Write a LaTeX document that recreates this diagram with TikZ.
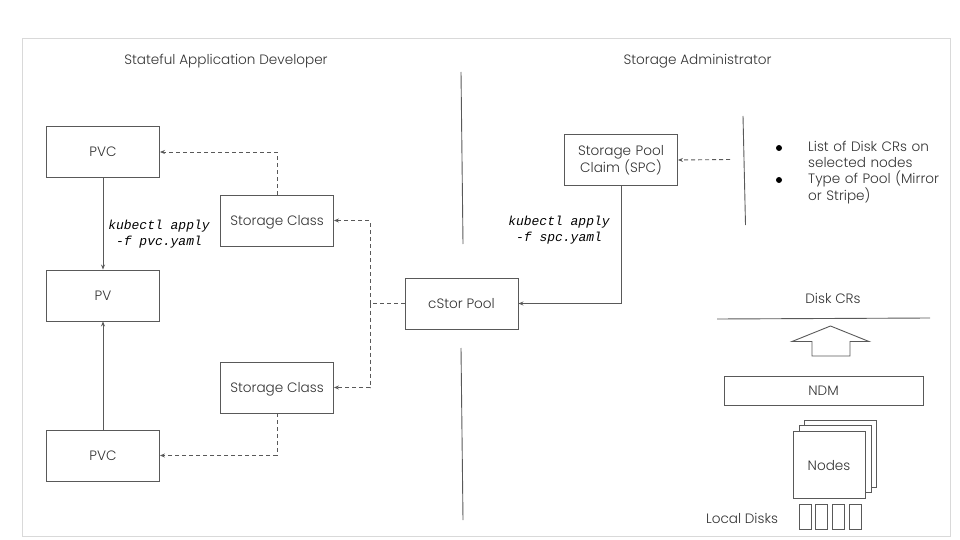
\documentclass[tikz,border=0pt]{standalone}
\usepackage{fontspec}
\setmainfont{Poppins Light}[BoldFont=Poppins]
\newfontfamily\codefont{Liberation Mono}
\usetikzlibrary{arrows.meta}
\definecolor{linegray}{HTML}{595959}
\definecolor{framegray}{HTML}{D9D9D9}
\definecolor{textgray}{HTML}{333333}
\tikzset{
    box/.style={draw=linegray,line width=0.9pt,minimum width=113pt,minimum height=51pt,inner sep=0pt,align=center,text=textgray,font=\fontsize{13.6}{16}\selectfont},
    head/.style={text=textgray,font=\fontsize{13.6}{16}\selectfont,align=left,inner sep=0pt},
    code/.style={font=\fontsize{13}{16.5}\selectfont\codefont\itshape,align=center,inner sep=0pt},
    plain/.style={draw=linegray,line width=0.9pt},
    link/.style={draw=linegray,line width=0.9pt,-{Stealth[length=5pt,width=4pt]}},
    dashlink/.style={link,dash pattern=on 4pt off 3pt},
    dashplain/.style={plain,dash pattern=on 4pt off 3pt}
}
\begin{document}
\begin{tikzpicture}[x=1pt,y=-1pt]
    \useasboundingbox (0,0) rectangle (960,540);
    \node[draw=framegray,line width=0.8pt,minimum width=928pt,minimum height=498pt,inner sep=0pt] (frame) at (486,287) {};

    \node[head] (devtitle) at (226,61) {Stateful Application Developer};
    \node[head] (admintitle) at (697.5,61) {Storage Administrator};

    \node[box,text height=10pt,text depth=0pt] (pvca) at (103,152) {PVC};
    \node[box,text height=10pt,text depth=0pt] (pv) at (103,295.5) {PV};
    \node[box,text height=10pt,text depth=0pt] (pvcb) at (103,455.5) {PVC};
    \node[box,text height=10pt,text depth=0pt] (classa) at (277,220.5) {Storage Class};
    \node[box,text height=10pt,text depth=0pt] (classb) at (277,387.5) {Storage Class};
    \node[box,text height=10pt,text depth=0pt] (pool) at (461.5,303.5) {cStor Pool};
    \node[box,text width=113pt] (claim) at (621,160) {Storage Pool\\Claim (SPC)};

    \node[code] (pvccmd) at (159,234) {kubectl apply\\-f pvc.yaml};
    \node[code] (spccmd) at (559,230) {kubectl apply\\-f spc.yaml};

    % dividers
    \coordinate (splitatop) at (461,72);
    \coordinate (splitabot) at (463,244);
    \coordinate (splitbtop) at (461,348);
    \coordinate (splitbbot) at (463,520);
    \coordinate (splitctop) at (743,116);
    \coordinate (splitcbot) at (745.5,225);
    \draw[plain] (splitatop) -- (splitabot);
    \draw[plain] (splitbtop) -- (splitbbot);
    \draw[plain] (splitctop) -- (splitcbot);

    % connectors
    \draw[link] (pvca) -- (pv);
    \draw[link] (pvcb) -- (pv);
    \draw[dashlink] (classa.north) |- (pvca.east);
    \draw[dashlink] (classb.south) |- (pvcb.east);
    \coordinate (junction) at (370,303.5);
    \draw[dashplain] (pool.west) -- (junction);
    \draw[dashlink] (junction) |- (classa.east);
    \draw[dashlink] (junction) |- (classb.east);
    \draw[link] (claim.south) |- (pool.east);
    \coordinate (listend) at (730,159.5);
    \draw[dashlink] (listend) -- (claim.east);

    % pool options
    \foreach \name/\ypos in {bulleta/148,bulletb/180} {
        \node[circle,fill=black,minimum size=6pt,inner sep=0pt] (\name) at (779,\ypos) {};
    }
    \node[head,anchor=west,text width=140pt] (options) at (808,173) {List of Disk CRs on\\selected nodes\\Type of Pool (Mirror\\or Stripe)};

    % disk side
    \node[head] (disktitle) at (833,298.5) {Disk CRs};
    \coordinate (diskleft) at (717,319);
    \coordinate (diskright) at (930,318);
    \draw[plain] (diskleft) -- (diskright);
    \draw[plain] (830.5,326) -- (869,341.5) -- (850,341.5) -- (850,356) -- (812,356) -- (812,341.5) -- (792,341.5) -- cycle;
    \node[box,text height=10pt,text depth=0pt,minimum width=199pt,minimum height=29pt] (ndm) at (823.5,390.5) {NDM};
    \foreach \shift/\name in {11/nodec,6/nodeb,0/nodea} {
        \begin{scope}[xshift=\shift pt,yshift=\shift pt]
            \node[box,fill=white,minimum width=72pt,minimum height=67pt] (\name) at (829,464.5) {};
        \end{scope}
    }
    \node[head] (nodestext) at (829,465.5) {Nodes};
    \foreach \position in {805,821.5,838,855} {
        \node[draw=linegray,line width=0.9pt,minimum width=12pt,minimum height=25pt,inner sep=0pt] (disk\position) at (\position,516.5) {};
    }
    \node[head] (disktext) at (742,518.5) {Local Disks};
\end{tikzpicture}
\end{document}
